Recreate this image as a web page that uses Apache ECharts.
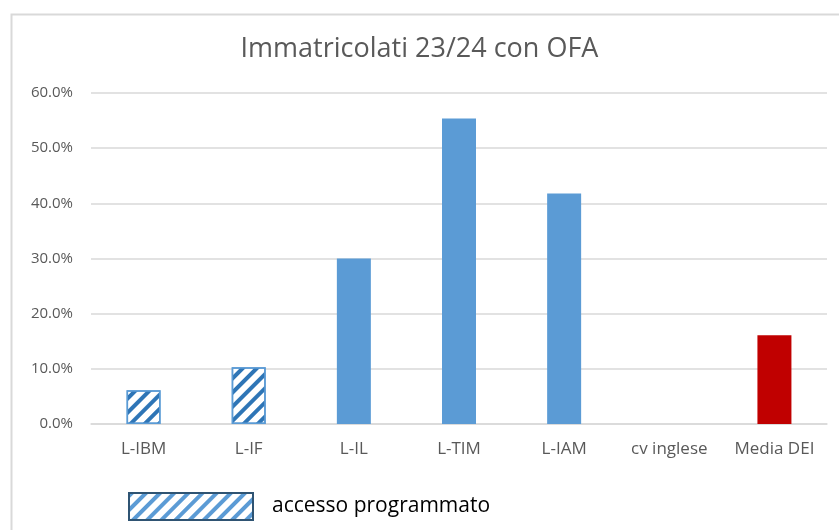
<!DOCTYPE html>
<html><head><meta charset="utf-8">
<script src="https://cdn.jsdelivr.net/npm/echarts@6/dist/echarts.min.js"></script>
<style>html,body{margin:0;padding:0;background:#fff}#c{width:839px;height:530px}</style>
</head><body><div id="c"></div>
<script>
const categories = ['L-IBM', 'L-IF', 'L-IL', 'L-TIM', 'L-IAM', 'cv inglese', 'Media DEI'];
const values = [6.1, 10.3, 30.0, 55.4, 41.8, 0, 16.1];
const hatched = [true, true, false, false, false, false, false];
const highlight = [false, false, false, false, false, false, true];
const yTicks = [0, 10, 20, 30, 40, 50, 60];
const legendLabel = 'accesso programmato';
const FONT = '"Open Sans", Lato, sans-serif';

function hatchDecal(color) {
  return { symbol: 'rect', symbolSize: 1, dashArrayX: [1, 0], dashArrayY: [4, 6], rotation: -Math.PI / 4, color: color };
}

const data = values.map((v, i) => {
  if (hatched[i]) return { value: v, itemStyle: { color: '#ffffff', borderColor: '#5b9bd5', borderWidth: 1.5, decal: hatchDecal('#2e75b6') } };
  if (highlight[i]) return { value: v, itemStyle: { color: '#c00000' } };
  return { value: v, itemStyle: { color: '#5b9bd5' } };
});

const chart = echarts.init(document.getElementById('c'));
chart.setOption({
  animation: false,
  title: { text: 'Immatricolati 23/24 con OFA', left: 'center', top: 31, textStyle: { fontFamily: FONT, fontSize: 27, fontWeight: 'normal', color: '#595959' } },
  legend: {
    data: [{ name: legendLabel, icon: 'rect' }], left: 123, top: 487, itemWidth: 124, itemHeight: 27, itemGap: 20,
    textStyle: { fontFamily: FONT, fontSize: 21, color: '#000', padding: [0, 0, 0, 14] }
  },
  grid: { left: 91, right: 12, top: 93, bottom: 106 },
  xAxis: {
    type: 'category', data: categories,
    axisLine: { lineStyle: { color: '#d9d9d9', width: 1.5 } }, axisTick: { show: false },
    axisLabel: { fontFamily: FONT, fontSize: 17, color: '#595959', margin: 17 }
  },
  yAxis: {
    type: 'value', min: 0, max: 60, interval: 10,
    axisLine: { show: false }, axisTick: { show: false },
    splitLine: { lineStyle: { color: '#d9d9d9', width: 1.5 } },
    axisLabel: { fontFamily: FONT, fontSize: 15, color: '#595959', margin: 18, formatter: v => yTicks.includes(v) ? v.toFixed(1) + '%' : '' }
  },
  series: [
    { type: 'bar', name: 'OFA', data: data, barWidth: 34 },
    { type: 'bar', name: legendLabel, data: [], barGap: '-100%', barWidth: 34,
      itemStyle: { color: '#ffffff', borderColor: '#2f5473', borderWidth: 1.5, decal: hatchDecal('#5b9bd5') } }
  ],
  graphic: [{ type: 'rect', left: 9, top: 12, shape: { width: 840, height: 530 }, style: { fill: 'none', stroke: '#d9d9d9', lineWidth: 2 }, silent: true, z: -1 }]
});
</script></body></html>
